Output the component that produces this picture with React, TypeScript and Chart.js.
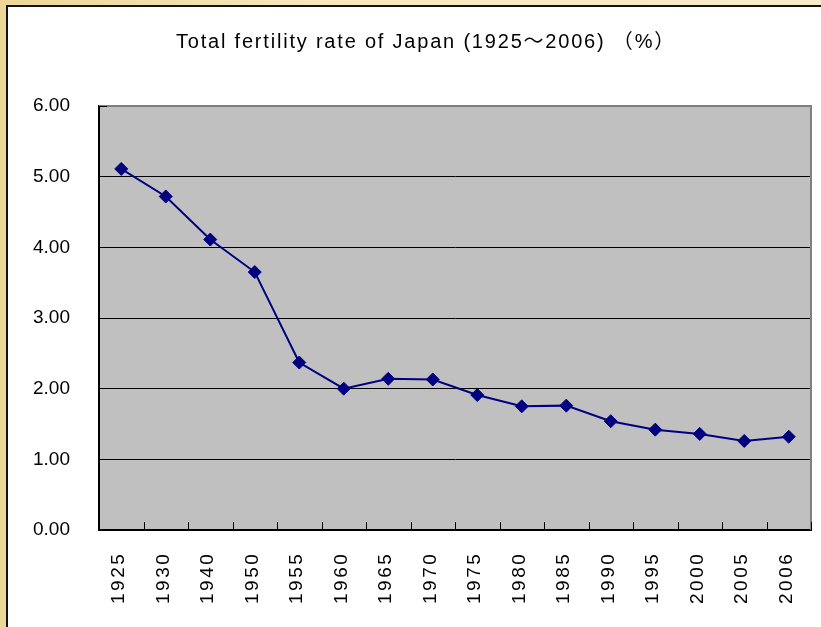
import React, { useEffect, useRef } from "react";
import { Chart, registerables } from "chart.js";

Chart.register(...registerables);

const categories = ["1925", "1930", "1940", "1950", "1955", "1960", "1965", "1970", "1975", "1980", "1985", "1990", "1995", "2000", "2005", "2006"];
const fertilityRate = [5.11, 4.72, 4.11, 3.65, 2.37, 2.0, 2.14, 2.13, 1.91, 1.75, 1.76, 1.54, 1.42, 1.36, 1.26, 1.32];
const yTickLabels = ["0.00", "1.00", "2.00", "3.00", "4.00", "5.00", "6.00"];
const titleText = "Total fertility rate of Japan (1925～2006) （%）";

const W = 821;
const H = 627;

const decorPlugin = {
  id: "decor",
  beforeDraw(chart: any) {
    const { ctx, chartArea } = chart;
    ctx.save();
    ctx.fillStyle = "#C0C0C0";
    ctx.fillRect(chartArea.left, chartArea.top, chartArea.right - chartArea.left, chartArea.bottom - chartArea.top);
    ctx.restore();
  },
  beforeDatasetsDraw(chart: any) {
    const { ctx, chartArea, scales } = chart;
    const { left, right, top, bottom } = chartArea;
    ctx.save();
    ctx.strokeStyle = "#808080";
    ctx.lineWidth = 2;
    ctx.beginPath();
    ctx.moveTo(left, top);
    ctx.lineTo(right, top);
    ctx.lineTo(right, bottom);
    ctx.stroke();
    ctx.strokeStyle = "#000";
    ctx.lineWidth = 1;
    ctx.beginPath();
    ctx.moveTo(left, top + 0.5);
    ctx.lineTo(left + 8, top + 0.5);
    ctx.stroke();
    const xs = scales.x;
    const n = categories.length;
    const step = (xs.right - xs.left) / n;
    ctx.beginPath();
    for (let i = 1; i <= n; i++) {
      const x = Math.round(xs.left + i * step) + 0.5;
      ctx.moveTo(x, bottom);
      ctx.lineTo(x, bottom - 8);
    }
    ctx.stroke();
    ctx.restore();
  },
  afterDraw(chart: any) {
    const { ctx, chartArea, scales } = chart;
    const xs = scales.x;
    ctx.save();
    ctx.fillStyle = "#000";
    ctx.font = '19px "Liberation Sans", Arial, sans-serif';
    (ctx as any).letterSpacing = "2.5px";
    ctx.textAlign = "left";
    ctx.textBaseline = "alphabetic";
    categories.forEach((lab, i) => {
      const x = xs.getPixelForTick(i);
      ctx.save();
      ctx.translate(x + 3, chartArea.bottom + 74);
      ctx.rotate(-Math.PI / 2);
      ctx.fillText(lab, 0, 0);
      ctx.restore();
    });
    // title
    ctx.font = '20px "Liberation Sans", "Noto Sans CJK JP", sans-serif';
    (ctx as any).letterSpacing = "1.8px";
    ctx.textAlign = "center";
    ctx.textBaseline = "alphabetic";
    ctx.fillText(titleText, 426, 48);
    (ctx as any).letterSpacing = "0px";
    ctx.restore();
  },
};

export default function App() {
  const canvasRef = useRef<HTMLCanvasElement | null>(null);

  useEffect(() => {
    document.body.style.margin = "0";
    const canvas = canvasRef.current;
    if (!canvas) return;
    const chart = new Chart(canvas, {
      type: "line",
      data: {
        labels: categories,
        datasets: [
          {
            data: fertilityRate,
            borderColor: "#000080",
            backgroundColor: "#000080",
            borderWidth: 2,
            pointStyle: "rectRot",
            pointRadius: 6.5,
            pointBackgroundColor: "#000080",
            pointBorderColor: "#000080",
            pointBorderWidth: 1,
            tension: 0,
            fill: false,
          },
        ],
      },
      options: {
        responsive: false,
        animation: false,
        events: [],
        layout: { padding: { top: 106, left: 0, right: 10, bottom: 0 } },
        plugins: {
          legend: { display: false },
          title: { display: false },
          tooltip: { enabled: false },
        },
        scales: {
          x: {
            type: "category",
            offset: true,
            grid: { display: false, drawTicks: false },
            border: { display: true, color: "#000", width: 2 },
            ticks: { display: false },
            afterFit: (s: any) => {
              s.height = 97;
            },
          },
          y: {
            min: 0,
            max: 6,
            ticks: {
              stepSize: 1,
              color: "#000",
              padding: 29,
              font: { family: '"Liberation Sans", Arial, sans-serif', size: 19 },
              callback: (_v: any, i: number) => yTickLabels[i],
            },
            grid: {
              drawTicks: false,
              color: (c: any) => (c.tick && (c.tick.value === 0 || c.tick.value === 6) ? "rgba(0,0,0,0)" : "#000"),
              lineWidth: 1,
            },
            border: { display: true, color: "#000", width: 2 },
            afterFit: (s: any) => {
              s.width = 99;
            },
          },
        },
      },
      plugins: [decorPlugin],
    });
    return () => chart.destroy();
  }, []);

  return (
    <div
      style={{
        position: "absolute",
        left: 0,
        top: 0,
        width: W,
        height: H,
        overflow: "hidden",
        background: "linear-gradient(90deg, #EDD797 0%, #F7E8BE 40%, #F9EDC8 100%)",
      }}
    >
      <div
        style={{
          position: "absolute",
          left: 6,
          top: 5,
          width: W,
          height: H,
          background: "#FFFFFF",
          borderLeft: "2px solid #111",
          borderTop: "2px solid #111",
        }}
      />
      <canvas
        ref={canvasRef}
        width={W}
        height={H}
        style={{ position: "absolute", left: 0, top: 0, width: W, height: H }}
      />
    </div>
  );
}
